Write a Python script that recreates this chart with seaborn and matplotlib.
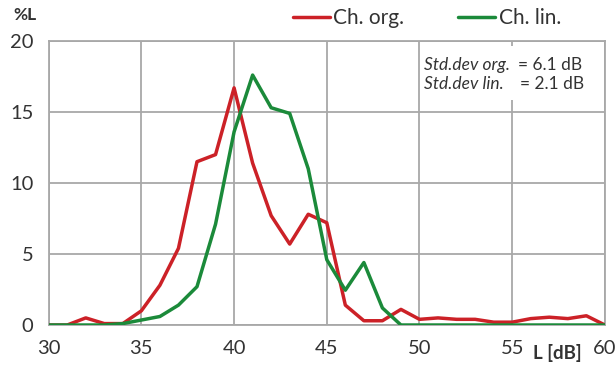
import numpy as np
import pandas as pd
import matplotlib
matplotlib.use("Agg")
import matplotlib.pyplot as plt
import seaborn as sns
from matplotlib.patches import Rectangle

# ---- data ----
levels_db = list(range(30, 61))
ch_org = [0.0, 0.0, 0.5, 0.1, 0.1, 1.0, 2.8, 5.4, 11.5, 12.0, 16.7,
          11.4, 7.7, 5.7, 7.8, 7.2, 1.4, 0.3, 0.3, 1.1, 0.4,
          0.5, 0.4, 0.4, 0.2, 0.2, 0.45, 0.55, 0.45, 0.65, 0.0]
ch_lin = [0.0, 0.0, 0.0, 0.0, 0.1, 0.35, 0.6, 1.4, 2.7, 7.1, 13.6,
          17.6, 15.3, 14.9, 11.0, 4.6, 2.45, 4.4, 1.2, 0.0, 0.0,
          0.0, 0.0, 0.0, 0.0, 0.0, 0.0, 0.0, 0.0, 0.0, 0.0]
series_names = ["Ch. org.", "Ch. lin."]
x_ticks = [30, 35, 40, 45, 50, 55, 60]
y_ticks = [0, 5, 10, 15, 20]
std_labels = ["Std.dev org.", "Std.dev lin."]
std_values = ["= 6.1 dB", "= 2.1 dB"]

df = pd.DataFrame({
    "L": levels_db * 2,
    "pct": ch_org + ch_lin,
    "series": [series_names[0]] * len(levels_db) + [series_names[1]] * len(levels_db),
})

sns.set_theme(style="white")
plt.rcParams["font.family"] = ["Lato", "DejaVu Sans"]

TXT = "#333333"
GRID = "#a8a8a8"

fig = plt.figure(figsize=(6.16, 3.66), dpi=100)
ax = fig.add_axes([0.079, 0.112, 0.903, 0.776])

palette = {series_names[0]: "#cc2127", series_names[1]: "#1b8a3a"}
sns.lineplot(data=df, x="L", y="pct", hue="series", palette=palette,
             linewidth=2.5, ax=ax, zorder=3)

ax.set_xlim(30, 60)
ax.set_ylim(0, 20)
ax.set_xticks(x_ticks)
ax.set_yticks(y_ticks)
ax.grid(True, color=GRID, linewidth=1.3, zorder=0)
for s in ax.spines.values():
    s.set_color(GRID)
    s.set_linewidth(1.3)
ax.tick_params(axis="both", direction="out", length=5, width=1.3,
               color=GRID, labelsize=14.5, labelcolor=TXT)
ax.tick_params(axis="x", pad=5.5)
ax.tick_params(axis="y", pad=6)
ax.set_xlabel("")
ax.set_ylabel("")

# legend
handles, labels = ax.get_legend_handles_labels()
ax.legend(handles, labels, ncol=2, frameon=False, fontsize=15,
          handlelength=1.78, handletextpad=0.15, columnspacing=2.6,
          borderpad=0, borderaxespad=0,
          loc="center left", bbox_to_anchor=(0.4756, 0.951),
          bbox_transform=fig.transFigure, labelcolor=TXT)

# axis titles
fig.text(0.021, 0.959, "%L", fontsize=12.5, fontweight="bold", color=TXT,
         va="center", ha="left")
fig.text(0.866, 0.036, "L [dB]", fontsize=13.5, fontweight="bold", color=TXT,
         va="center", ha="left")

# std-dev box
ax.add_patch(Rectangle((50.15, 15.85), 9.65, 3.8, facecolor="white",
                       edgecolor="none", zorder=2))
ax.text(50.25, 18.3, std_labels[0], fontsize=12.5, style="italic",
        color=TXT, va="center", ha="left", zorder=4)
ax.text(55.3, 18.3, std_values[0], fontsize=12.5, color=TXT,
        va="center", ha="left", zorder=4)
ax.text(50.25, 17.0, std_labels[1], fontsize=12.5, style="italic",
        color=TXT, va="center", ha="left", zorder=4)
ax.text(55.42, 17.0, std_values[1], fontsize=12.5, color=TXT,
        va="center", ha="left", zorder=4)

fig.savefig("out.png", dpi=100)
